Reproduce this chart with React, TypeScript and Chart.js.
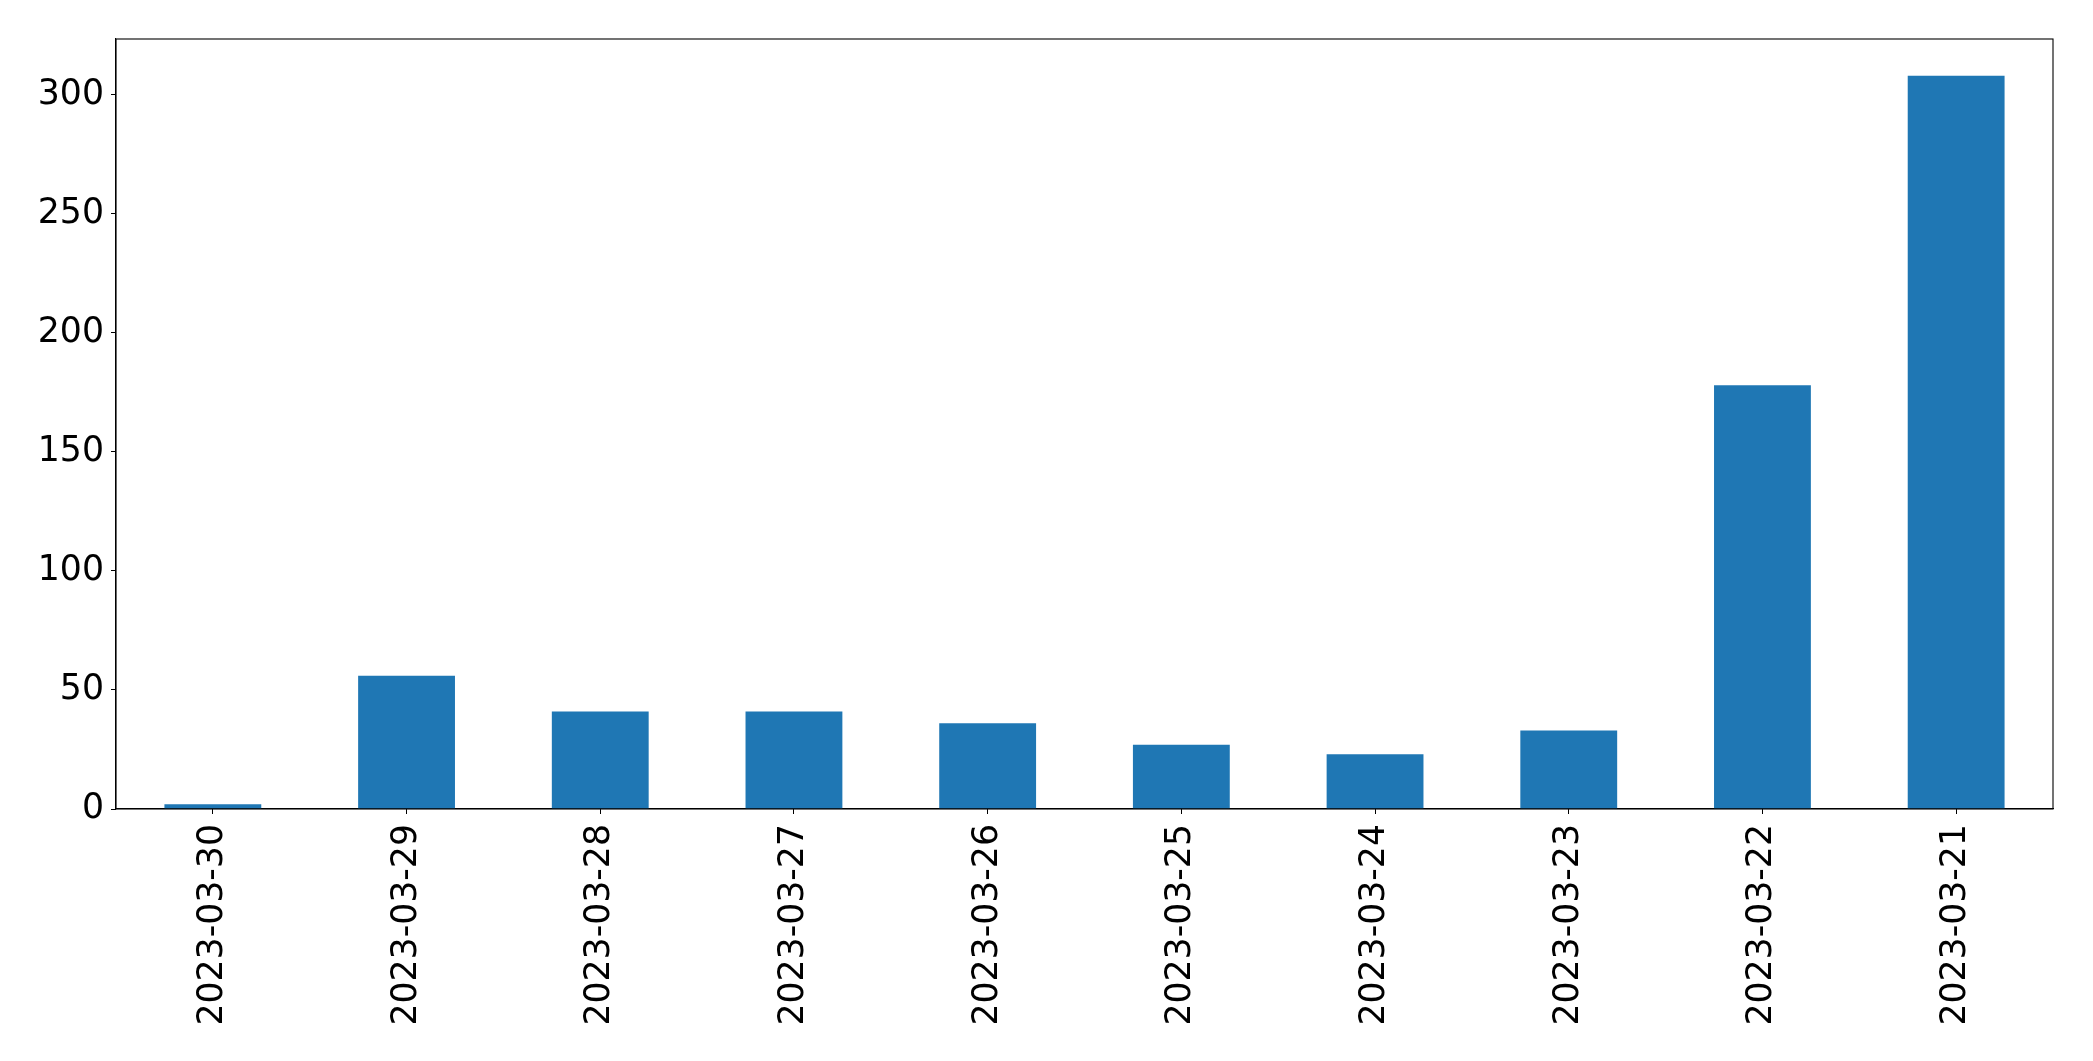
import React, { useEffect, useRef } from "react";
import { Chart, registerables } from "chart.js";

Chart.register(...registerables);

const categories = [
  "2023-03-30",
  "2023-03-29",
  "2023-03-28",
  "2023-03-27",
  "2023-03-26",
  "2023-03-25",
  "2023-03-24",
  "2023-03-23",
  "2023-03-22",
  "2023-03-21",
];
const values = [2, 56, 41, 41, 36, 27, 23, 33, 178, 308];
const yTicks = [0, 50, 100, 150, 200, 250, 300];
const yMax = 323.4;

const W = 2093;
const H = 1061;
const FONT = "'DejaVu Sans', sans-serif";

const framePlugin = {
  id: "frame",
  afterDraw(chart: any) {
    const { ctx, chartArea } = chart;
    ctx.save();
    ctx.strokeStyle = "#000";
    ctx.lineWidth = 1.1;
    ctx.strokeRect(chartArea.left, chartArea.top, chartArea.right - chartArea.left, chartArea.bottom - chartArea.top);
    ctx.restore();
  },
};

export default function App() {
  const ref = useRef<HTMLCanvasElement | null>(null);
  useEffect(() => {
    document.body.style.margin = "0";
    const canvas = ref.current!;
    const chart = new Chart(canvas, {
      type: "bar",
      data: {
        labels: categories,
        datasets: [
          {
            data: values,
            backgroundColor: "#1f77b4",
            barPercentage: 0.5,
            categoryPercentage: 1,
          },
        ],
      },
      options: {
        animation: false,
        responsive: false,
        devicePixelRatio: 1,
        layout: { padding: { top: 39, right: 40, left: 0, bottom: 0 } },
        plugins: { legend: { display: false }, tooltip: { enabled: false } },
        scales: {
          x: {
            offset: true,
            grid: { drawOnChartArea: false, drawTicks: true, tickLength: 5, color: "#000", offset: false },
            border: { display: true, color: "#000", width: 1.1 },
            ticks: {
              color: "#000",
              font: { family: FONT, size: 34.7 },
              minRotation: 90,
              maxRotation: 90,
              padding: 10,
              autoSkip: false,
            },
            afterFit(scale: any) {
              scale.height = H - 809;
            },
          },
          y: {
            min: 0,
            max: yMax,
            afterBuildTicks(scale: any) {
              scale.ticks = yTicks.map((v) => ({ value: v }));
            },
            grid: { drawOnChartArea: false, drawTicks: true, tickLength: 5, color: "#000" },
            border: { display: true, color: "#000", width: 1.1 },
            ticks: {
              color: "#000",
              font: { family: FONT, size: 34.7 },
              padding: 7,
            },
            afterFit(scale: any) {
              scale.width = 116;
            },
          },
        },
      },
      plugins: [framePlugin],
    });
    return () => chart.destroy();
  }, []);
  return (
    <div style={{ width: W, height: H, background: "#fff" }}>
      <canvas ref={ref} width={W} height={H} style={{ display: "block", width: W, height: H }} />
    </div>
  );
}
